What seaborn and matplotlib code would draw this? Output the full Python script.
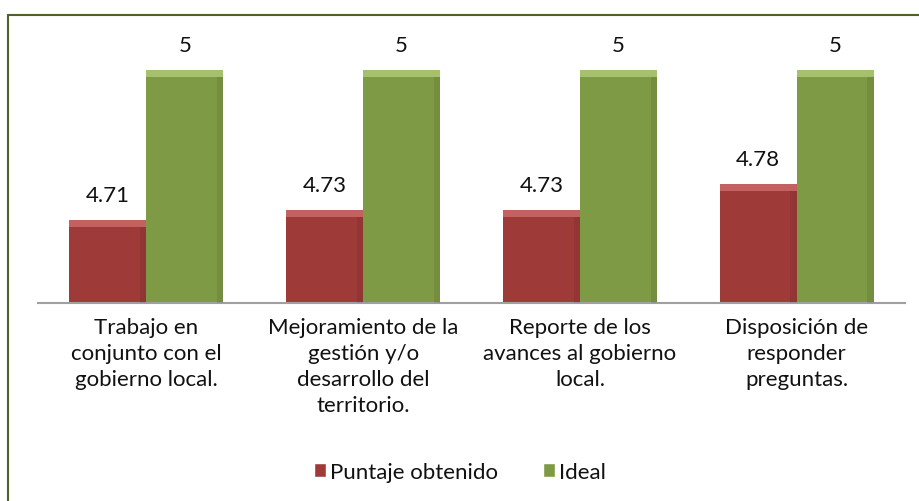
import numpy as np
import pandas as pd
import matplotlib
matplotlib.use("Agg")
import matplotlib.pyplot as plt
from matplotlib.patches import Rectangle
import seaborn as sns

# data
categories = ["Trabajo en\nconjunto con el\ngobierno local.",
              "Mejoramiento de la\ngestión y/o\ndesarrollo del\nterritorio.",
              "Reporte de los\navances al gobierno\nlocal.",
              "Disposición de\nresponder\npreguntas."]
puntaje = [4.71, 4.73, 4.73, 4.78]
ideal = [5, 5, 5, 5]
series = ["Puntaje obtenido", "Ideal"]
labels_puntaje = ["4.71", "4.73", "4.73", "4.78"]
labels_ideal = ["5", "5", "5", "5"]

df = pd.DataFrame({
    "cat": categories * 2,
    "serie": [series[0]] * 4 + [series[1]] * 4,
    "valor": puntaje + ideal,
})

sns.set_style("white")
plt.rcParams["font.family"] = ["Lato", "DejaVu Sans"]
plt.rcParams["text.color"] = "#111111"
plt.rcParams["xtick.color"] = "#111111"

red = "#9E3B39"
green = "#7F9A44"

fig = plt.figure(figsize=(9.2, 5.02), dpi=100)
ax = fig.add_axes([0.0413, 0.3944, 0.9424, 0.5458])

sns.barplot(data=df, x="cat", y="valor", hue="serie", hue_order=series,
            palette=[red, green], width=0.71, gap=0, saturation=1,
            edgecolor="none", linewidth=0, legend=False, ax=ax)

ax.set_ylim(4.55, 5.079)
ax.set_xlim(-0.5, 3.5)

# soft bevel on top and right side of each bar
for cont, light in zip(ax.containers, ["#E08280", "#C8E290"]):
    for p in cont.patches:
        h = 0.013
        ax.add_patch(Rectangle((p.get_x(), p.get_y() + p.get_height() - h),
                               p.get_width(), h, facecolor=light,
                               edgecolor="none", alpha=0.55, zorder=3))
        ax.add_patch(Rectangle((p.get_x() + p.get_width() * 0.92, p.get_y()),
                               p.get_width() * 0.08, p.get_height() - h,
                               facecolor="black", edgecolor="none",
                               alpha=0.08, zorder=3))

ax.bar_label(ax.containers[0], labels=labels_puntaje, padding=11, fontsize=16)
ax.bar_label(ax.containers[1], labels=labels_ideal, padding=11, fontsize=16)

ax.set_xlabel("")
ax.set_ylabel("")
ax.set_yticks([])
ax.tick_params(axis="x", length=0, pad=10, labelsize=16)
for t in ax.get_xticklabels():
    t.set_linespacing(1.38)
for s in ["top", "right", "left"]:
    ax.spines[s].set_visible(False)
ax.spines["bottom"].set_color("#A0A0A0")
ax.spines["bottom"].set_linewidth(1.5)

handles = [Rectangle((0, 0), 1, 1, facecolor=red),
           Rectangle((0, 0), 1, 1, facecolor=green)]
fig.legend(handles, series, loc="center", bbox_to_anchor=(0.5, 0.058),
           ncol=2, frameon=False, fontsize=16, handlelength=0.55,
           handleheight=0.55, handletextpad=0.2, columnspacing=2.0)

# outer frame
fig.add_artist(Rectangle((0.0092, -0.05), 1.2, 1.019, transform=fig.transFigure,
                         fill=False, edgecolor="#4F6228", linewidth=1.5))

fig.savefig("out.png", dpi=100)
